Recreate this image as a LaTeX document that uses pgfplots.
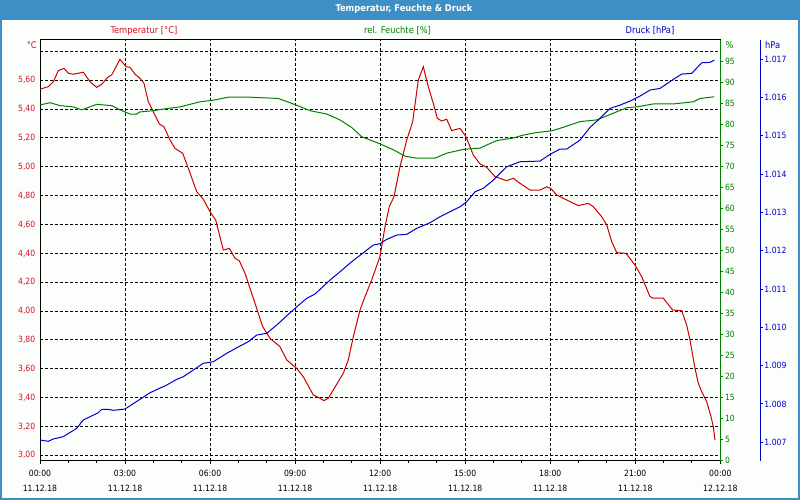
\documentclass[border=0pt]{standalone}
\usepackage{fontspec}
\setmainfont{DejaVu Sans Condensed}
\usepackage{pgfplots}
\pgfplotsset{compat=1.18}

\definecolor{tred}{RGB}{204,0,0}
\definecolor{tredlab}{RGB}{214,16,40}
\definecolor{tgreen}{RGB}{0,128,0}
\definecolor{tblue}{RGB}{0,0,204}
\definecolor{barblue}{RGB}{61,143,198}
\definecolor{bgc}{RGB}{252,254,252}

\newcommand\fs{\fontsize{8.6}{15.3}\selectfont}
\newcommand\fl{\fontsize{9.3}{11}\selectfont}

\pgfplotstableread{
h T
0 5.538
0.293 5.556
0.469 5.590
0.646 5.667
0.847 5.683
0.998 5.649
1.175 5.642
1.528 5.656
1.764 5.590
2.000 5.551
2.177 5.572
2.409 5.625
2.529 5.637
2.822 5.746
3.034 5.694
3.175 5.690
3.351 5.642
3.528 5.614
3.669 5.579
3.821 5.452
3.997 5.382
4.209 5.297
4.374 5.278
4.586 5.186
4.763 5.128
5.034 5.094
5.232 4.990
5.528 4.828
5.761 4.775
5.997 4.689
6.198 4.631
6.467 4.423
6.678 4.435
6.879 4.366
7.031 4.349
7.232 4.262
7.468 4.123
7.701 3.985
7.856 3.892
8.114 3.811
8.467 3.753
8.703 3.661
9.056 3.603
9.289 3.545
9.641 3.418
9.818 3.402
10.019 3.379
10.171 3.395
10.347 3.453
10.700 3.569
10.876 3.661
11.053 3.822
11.289 4.007
11.465 4.100
11.702 4.215
11.995 4.380
12.171 4.585
12.323 4.724
12.489 4.793
12.700 5.001
12.937 5.186
13.148 5.313
13.346 5.602
13.522 5.694
13.698 5.556
13.875 5.440
14.016 5.337
14.171 5.318
14.348 5.330
14.524 5.251
14.817 5.267
15.029 5.209
15.286 5.082
15.523 5.020
15.759 4.997
16.052 4.932
16.464 4.904
16.697 4.921
16.934 4.886
17.286 4.839
17.639 4.839
17.875 4.862
18.016 4.851
18.228 4.805
18.581 4.770
18.990 4.731
19.343 4.747
19.520 4.724
19.816 4.654
19.992 4.597
20.169 4.481
20.345 4.405
20.673 4.400
20.991 4.319
21.227 4.238
21.520 4.100
21.637 4.089
21.989 4.089
22.321 4.007
22.638 4.003
22.814 3.903
22.931 3.799
23.107 3.603
23.224 3.499
23.344 3.441
23.520 3.372
23.672 3.268
23.753 3.198
23.813 3.106
}\temptable

\pgfplotstableread{
h H
0 84.55
0.353 85.1
0.706 84.4
1.175 84.1
1.471 83.4
2.000 84.7
2.529 84.4
2.822 83.4
3.175 82.4
3.411 82.4
3.528 82.9
3.997 83.2
4.470 83.7
4.939 84.1
5.644 85.3
6.114 85.7
6.643 86.4
7.408 86.4
8.407 86.1
8.936 84.8
9.525 83.2
10.114 82.4
10.584 81.0
10.996 79.2
11.349 77.0
11.995 75.3
12.464 73.9
12.877 72.4
13.289 71.9
13.935 71.9
14.348 73.1
14.933 74.0
15.523 74.3
16.112 76.1
16.697 76.7
17.050 77.4
17.522 78.0
18.052 78.4
18.345 79.0
19.050 80.6
19.640 81.0
20.225 82.6
20.698 83.9
21.050 84.1
21.637 84.8
22.342 84.8
23.047 85.3
23.283 86.1
23.788 86.5
}\humtable

\pgfplotstableread{
h P
0 1007.057
0.293 1007.023
0.469 1007.084
0.822 1007.144
1.295 1007.363
1.528 1007.580
2.057 1007.770
2.177 1007.859
2.409 1007.859
2.586 1007.833
2.999 1007.867
3.528 1008.120
3.881 1008.292
4.470 1008.493
4.823 1008.642
5.055 1008.710
5.408 1008.885
5.761 1009.060
6.114 1009.102
6.586 1009.321
7.056 1009.512
7.348 1009.624
7.645 1009.799
7.998 1009.843
8.350 1010.060
8.996 1010.496
9.409 1010.757
9.701 1010.869
10.231 1011.235
10.584 1011.452
10.996 1011.713
11.349 1011.914
11.758 1012.149
11.995 1012.184
12.231 1012.298
12.584 1012.410
12.937 1012.428
13.289 1012.585
13.758 1012.731
14.111 1012.888
14.464 1013.018
14.817 1013.149
15.053 1013.279
15.346 1013.540
15.639 1013.629
15.992 1013.846
16.464 1014.193
16.934 1014.324
17.639 1014.342
17.992 1014.517
18.345 1014.655
18.581 1014.655
19.050 1014.890
19.403 1015.222
19.755 1015.457
20.108 1015.718
20.461 1015.804
20.814 1015.909
21.167 1016.039
21.520 1016.196
21.872 1016.240
22.342 1016.475
22.638 1016.614
22.991 1016.632
23.344 1016.909
23.637 1016.919
23.788 1016.979
}\prestable

\begin{document}
\begin{tikzpicture}[x=1bp,y=1bp]
\useasboundingbox (0,0) rectangle (800,500);
\fill[barblue] (0,0) rectangle (800,500);
\fill[bgc] (2,2) rectangle (798,480);
\node[text=white, font=\bfseries\fl] at (404,491) {Temperatur, Feuchte \& Druck};

\node[text=tredlab, font=\fl] at (144,469) {Temperatur [°C]};
\node[text=tgreen, font=\fl] at (397.5,469) {rel. Feuchte [\%]};
\node[text=tblue, font=\fl] at (650,469) {Druck [hPa]};
\node[text=tredlab, font=\fl, anchor=east, inner sep=0pt] at (37,455) {°C};
\node[text=tgreen, font=\fl, anchor=west, inner sep=0pt] at (725.5,455) {\%};
\node[text=tblue, font=\fl, anchor=west, inner sep=0pt] at (765,455) {hPa};

% temperature axis with grid
\begin{axis}[
  at={(40bp,39.3bp)}, anchor=south west, scale only axis,
  width=680.3bp, height=420.7bp,
  xmin=0, xmax=24, ymin=2.9626, ymax=5.8795,
  axis line style={black, line width=1bp},
  xtick={0,3,6,9,12,15,18,21,24},
  minor x tick num=2,
  xtick pos=bottom, ytick pos=left,
  tick align=outside,
  major tick length=3bp, minor tick length=2.5bp,
  x tick style={black, line width=1bp},
  y tick style={draw=none},
  xticklabels={{00:00\\11.12.18},{03:00\\11.12.18},{06:00\\11.12.18},{09:00\\11.12.18},{12:00\\11.12.18},{15:00\\11.12.18},{18:00\\11.12.18},{21:00\\11.12.18},{00:00\\12.12.18}},
  xticklabel style={align=center, font=\fs, text=black, yshift=-3bp},
  ytick={3,3.2,3.4,3.6,3.8,4,4.2,4.4,4.6,4.8,5,5.2,5.4,5.6},
  extra y ticks={5.8}, extra y tick labels={},
  extra y tick style={grid=major},
  yticklabel style={font=\fs, text=tredlab, inner sep=1.5bp},
  /pgf/number format/fixed, /pgf/number format/fixed zerofill,
  /pgf/number format/precision=2, /pgf/number format/use comma,
  /pgf/number format/assume math mode=true,
  xmajorgrids, ymajorgrids,
  grid style={black, line width=1bp, dash pattern=on 3bp off 2bp},
]
\addplot[tred, line width=1bp, no marks] table[x=h, y=T] {\temptable};
\end{axis}

% humidity axis
\begin{axis}[
  at={(40bp,39.3bp)}, anchor=south west, scale only axis,
  width=680.3bp, height=420.7bp,
  xmin=0, xmax=24, ymin=0, ymax=100,
  hide x axis,
  axis y line*=right,
  y axis line style={tgreen, line width=1bp},
  ytick={0,5,...,95},
  tick align=outside, major tick length=3bp,
  y tick style={tgreen, line width=1bp},
  yticklabel style={font=\fs, text=tgreen, inner sep=1.5bp},
  /pgf/number format/fixed, /pgf/number format/precision=0,
  /pgf/number format/assume math mode=true,
]
\addplot[tgreen, line width=1bp, no marks] table[x=h, y=H] {\humtable};
\end{axis}

% pressure axis (its right edge is the outer axis)
\begin{axis}[
  at={(40bp,39.3bp)}, anchor=south west, scale only axis,
  width=720.7bp, height=420.7bp,
  xmin=0, xmax=25.425, ymin=1006.517, ymax=1017.504,
  hide x axis,
  axis y line*=right,
  y axis line style={tblue, line width=1bp},
  ytick={1007,1008,1009,1010,1011,1012,1013,1014,1015,1016,1017},
  scaled y ticks=false,
  tick align=outside, major tick length=2bp,
  y tick style={tblue, line width=1bp},
  yticklabel style={font=\fs, text=tblue, inner sep=1.5bp},
  /pgf/number format/fixed, /pgf/number format/precision=0,
  /pgf/number format/1000 sep={.},
  /pgf/number format/assume math mode=true,
]
\addplot[tblue, line width=1bp, no marks] table[x=h, y=P] {\prestable};
\end{axis}
\end{tikzpicture}
\end{document}
